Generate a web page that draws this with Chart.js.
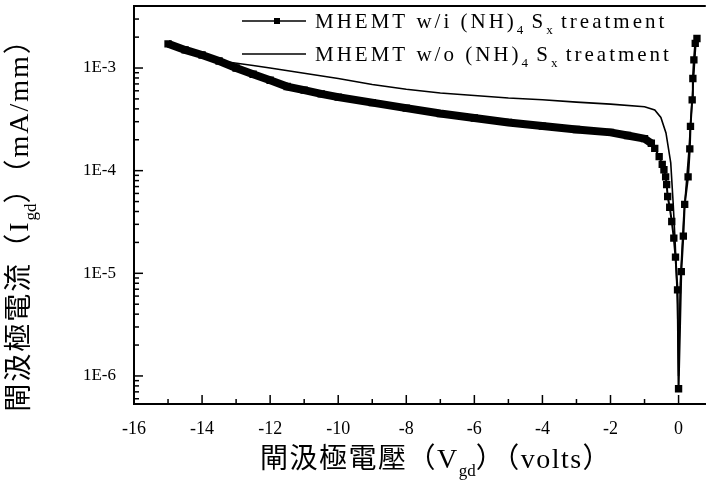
<!DOCTYPE html>
<html>
<head>
<meta charset="utf-8">
<title>Igd - Vgd</title>
<script src="https://cdn.jsdelivr.net/npm/chart.js"></script>
<style>body{margin:0;background:#fff}</style>
</head>
<body>
<canvas id="igd-chart" width="711" height="480"></canvas>
<script>

// MHEMT w/i (NH)4Sx treatment  (square markers)
var vgdWith = [-15, -14.5, -14, -13.5, -13, -12.5, -12, -11.5, -11, -10.5, -10, -9, -8, -7, -6, -5, -4, -3, -2, -1.5, -1,
  -0.8, -0.7, -0.57, -0.48, -0.43, -0.38, -0.35, -0.32, -0.26, -0.2, -0.14, -0.09, -0.03, 0,
  0.08, 0.14, 0.18, 0.28, 0.33, 0.35, 0.4, 0.42, 0.45, 0.49, 0.54];
var igdWith = [1.72e-3, 1.5e-3, 1.34e-3, 1.17e-3, 1.0e-3, 8.7e-4, 7.6e-4, 6.6e-4, 6.1e-4, 5.6e-4, 5.2e-4, 4.6e-4, 4.07e-4, 3.6e-4, 3.26e-4, 2.95e-4, 2.72e-4, 2.52e-4, 2.36e-4, 2.2e-4, 2.05e-4,
  1.85e-4, 1.65e-4, 1.37e-4, 1.15e-4, 1.02e-4, 8.7e-5, 7.3e-5, 5.6e-5, 4.4e-5, 3.2e-5, 2.2e-5, 1.44e-5, 6.9e-6, 7.5e-7,
  1.04e-5, 2.3e-5, 4.7e-5, 8.7e-5, 1.63e-4, 2.7e-4, 4.9e-4, 7.9e-4, 1.2e-3, 1.74e-3, 1.94e-3];

// MHEMT w/o (NH)4Sx treatment  (plain line)
var vgdWithout = [-13.3, -12.5, -12, -11, -10, -9, -8, -7, -6, -5, -4, -3, -2, -1, -0.7, -0.52, -0.37, -0.23, -0.16, -0.1, -0.03, 0,
  0.05, 0.15, 0.3, 0.4, 0.5, 0.54];
var igdWithout = [1.15e-3, 1.06e-3, 1.0e-3, 8.9e-4, 7.9e-4, 6.9e-4, 6.2e-4, 5.7e-4, 5.4e-4, 5.1e-4, 4.9e-4, 4.65e-4, 4.45e-4, 4.2e-4, 3.9e-4, 3.3e-4, 2.33e-4, 1.19e-4, 4.9e-5, 2e-5, 5e-6, 1e-6,
  8e-6, 3.5e-5, 1.5e-4, 5e-4, 1.6e-3, 1.94e-3];

var xTicks = [-16, -15, -14, -13, -12, -11, -10, -9, -8, -7, -6, -5, -4, -3, -2, -1, 0];
var yDecades = [1e-6, 1e-5, 1e-4, 1e-3];
var yTickLabels = ['1E-6', '1E-5', '1E-4', '1E-3'];

var FONT = '"Liberation Serif", "Noto Sans CJK TC", serif';

function pts(xs, ys) {
  return xs.map(function (x, i) { return { x: x, y: ys[i] }; });
}

// text with subscripts: parts = [[text, isSub], ...]
function setPart(ctx, p, size, spacing) {
  ctx.font = (p[1] ? Math.round(size * 0.6) : size) + 'px ' + FONT;
  ctx.letterSpacing = (p[1] ? 0 : spacing) + 'px';
}
function drawRich(ctx, parts, x, y, size, spacing, align) {
  var w = 0;
  parts.forEach(function (p) { setPart(ctx, p, size, spacing); w += ctx.measureText(p[0]).width; });
  var cx = align === 'center' ? x - w / 2 : x;
  ctx.textBaseline = 'alphabetic';
  ctx.textAlign = 'left';
  ctx.fillStyle = '#000';
  parts.forEach(function (p) {
    setPart(ctx, p, size, spacing);
    ctx.fillText(p[0], cx, y + (p[1] ? size * 0.28 : 0));
    cx += ctx.measureText(p[0]).width;
  });
  ctx.letterSpacing = '0px';
}

var decorations = {
  id: 'decorations',
  afterDraw: function (chart) {
    var ctx = chart.ctx, a = chart.chartArea;
    var xs = chart.scales.x, ys = chart.scales.y;
    ctx.save();
    ctx.strokeStyle = '#000';
    ctx.lineWidth = 1.5;
    // inward tick marks
    xs.ticks.forEach(function (t) {
      var px = xs.getPixelForValue(t.value);
      var len = t.value % 2 === 0 ? 9 : 5;
      ctx.beginPath(); ctx.moveTo(px, a.bottom); ctx.lineTo(px, a.bottom - len); ctx.stroke();
    });
    ys.ticks.forEach(function (t) {
      var py = ys.getPixelForValue(t.value);
      var len = yDecades.indexOf(t.value) >= 0 ? 9 : 5;
      ctx.beginPath(); ctx.moveTo(a.left, py); ctx.lineTo(a.left + len, py); ctx.stroke();
    });
    // top frame line
    ctx.lineWidth = 2;
    ctx.beginPath(); ctx.moveTo(a.left, a.top); ctx.lineTo(a.right, a.top); ctx.stroke();

    // legend
    var rows = [
      { y: 21, marker: true, parts: [['MHEMT w/i (NH)'], ['4', 1], [' S'], ['x', 1], [' treatment']] },
      { y: 54, marker: false, parts: [['MHEMT w/o (NH)'], ['4', 1], [' S'], ['x', 1], [' treatment']] }
    ];
    rows.forEach(function (r) {
      ctx.lineWidth = 1.5;
      ctx.beginPath(); ctx.moveTo(242, r.y); ctx.lineTo(306, r.y); ctx.stroke();
      if (r.marker) { ctx.fillStyle = '#000'; ctx.fillRect(274, r.y - 3, 6, 6); }
      drawRich(ctx, r.parts, 315, r.y + 7, 21, 3, 'left');
    });

    // axis titles
    drawRich(ctx, [['閘汲極電壓（V'], ['gd', 1], ['）（volts）']], 436, 468, 28, 1.5, 'center');
    ctx.translate(28, 218);
    ctx.rotate(-Math.PI / 2);
    drawRich(ctx, [['閘汲極電流（I'], ['gd', 1], ['）（mA/mm）']], 0, 0, 28, 2, 'center');
    ctx.restore();
  }
};

var chart = new Chart(document.getElementById('igd-chart'), {
  type: 'line',
  data: {
    datasets: [
      {
        label: 'MHEMT w/i (NH)4 Sx treatment',
        data: pts(vgdWith, igdWith),
        borderColor: '#000',
        backgroundColor: '#000',
        borderWidth: 2,
        pointStyle: 'rect',
        pointRadius: 5.2,
        pointBorderWidth: 0,
        segment: {
          borderWidth: function (c) { return c.p0.parsed.x < -0.9 ? 8 : 2; }
        }
      },
      {
        label: 'MHEMT w/o (NH)4 Sx treatment',
        data: pts(vgdWithout, igdWithout),
        borderColor: '#000',
        borderWidth: 1.6,
        pointRadius: 0
      }
    ]
  },
  options: {
    responsive: false,
    animation: false,
    events: [],
    layout: { padding: { top: 6, right: 0, left: 0, bottom: 0 } },
    plugins: { legend: { display: false }, tooltip: { enabled: false } },
    scales: {
      x: {
        type: 'linear',
        min: -16,
        max: 0.8,
        grid: { display: false, drawTicks: false },
        border: { display: true, color: '#000', width: 2 },
        afterBuildTicks: function (s) { s.ticks = xTicks.map(function (v) { return { value: v }; }); },
        afterFit: function (s) { s.height = 76; s.paddingLeft = 0; s.paddingRight = 0; },
        ticks: {
          autoSkip: false,
          maxRotation: 0,
          padding: 14,
          color: '#000',
          font: { family: FONT, size: 18 },
          callback: function (v) { return v % 2 === 0 ? String(v) : ''; }
        }
      },
      y: {
        type: 'logarithmic',
        min: 5.33e-7,
        max: 4.02e-3,
        grid: { display: false, drawTicks: false },
        border: { display: true, color: '#000', width: 2 },
        afterBuildTicks: function (s) {
          var t = [];
          for (var e = Math.floor(Math.log10(s.min)); e <= Math.floor(Math.log10(s.max)); e++) {
            var i = yDecades.indexOf(Math.pow(10, e));
            var d = i >= 0 ? yDecades[i] : Math.pow(10, e);
            for (var m = 1; m <= 9; m++) {
              var v = m * d;
              if (v >= s.min && v <= s.max) t.push({ value: v });
            }
          }
          s.ticks = t;
        },
        afterFit: function (s) { s.width = 134; s.paddingTop = 0; s.paddingBottom = 0; },
        ticks: {
          autoSkip: false,
          padding: 18,
          color: '#000',
          font: { family: FONT, size: 17 },
          callback: function (v) {
            var i = yDecades.indexOf(v);
            return i >= 0 ? yTickLabels[i] : '';
          }
        }
      }
    }
  },
  plugins: [decorations]
});
</script>
</body>
</html>
